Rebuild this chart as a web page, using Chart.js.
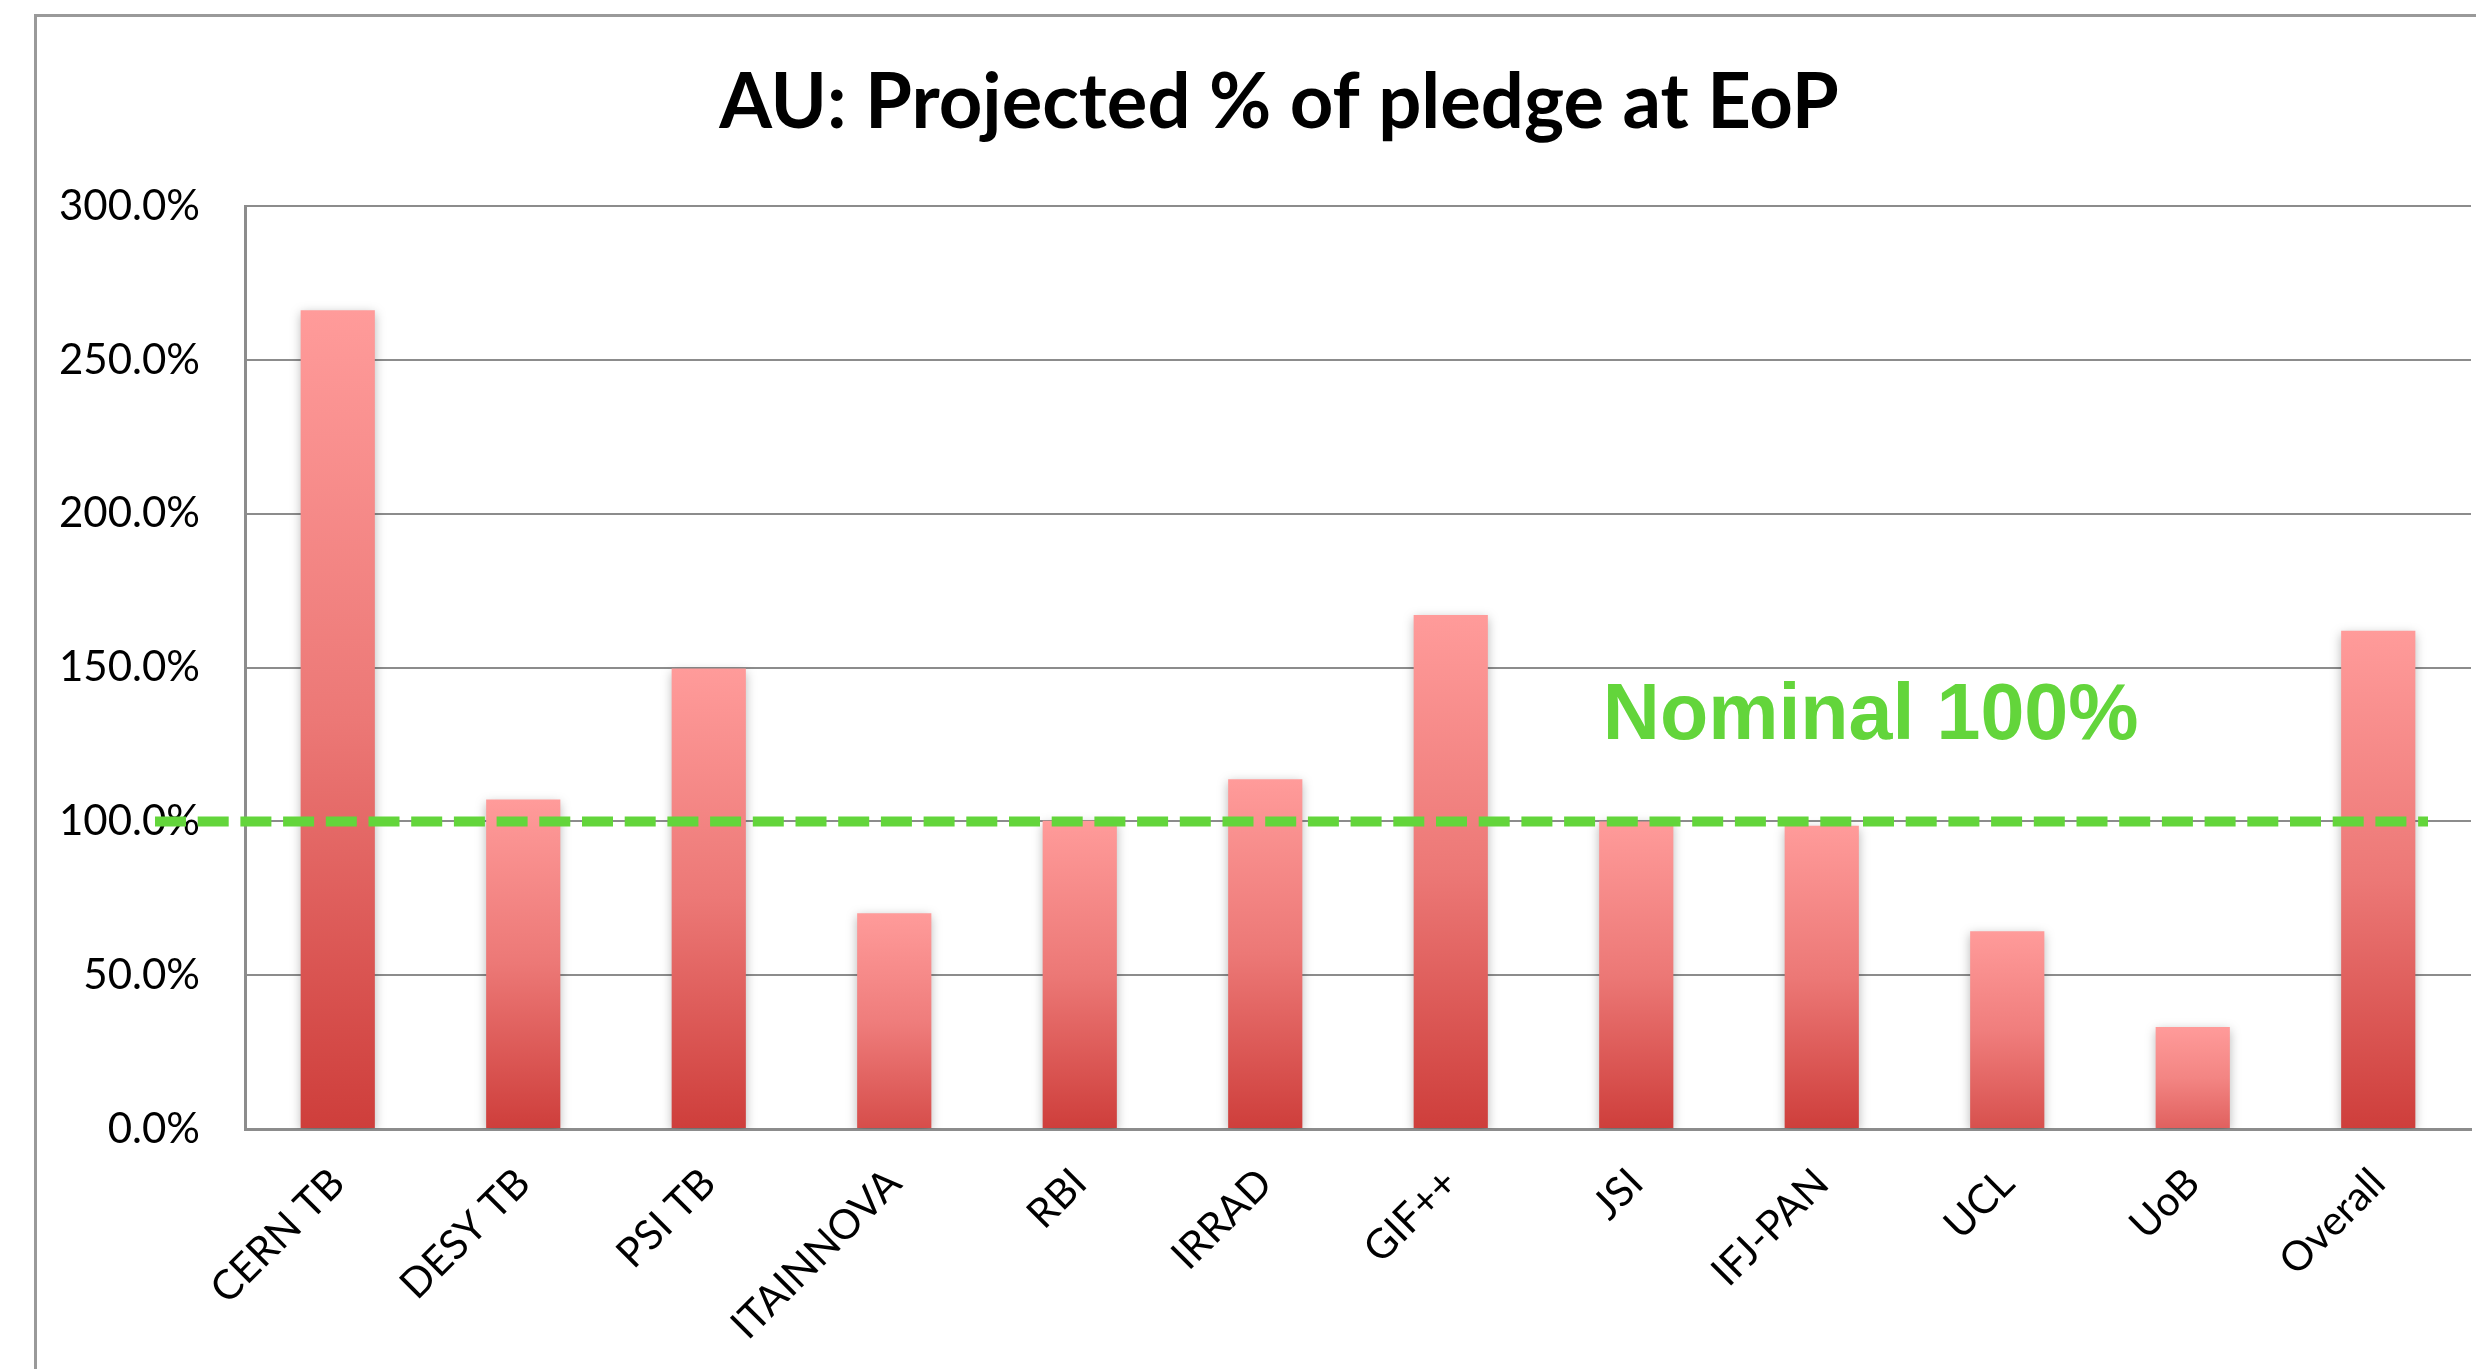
<!DOCTYPE html>
<html>
<head>
<meta charset="utf-8">
<title>AU: Projected % of pledge at EoP</title>
<script src="https://cdn.jsdelivr.net/npm/chart.js@4.4.1/dist/chart.umd.min.js"></script>
<style>
    html, body {
        margin: 0;
        padding: 0;
        background: #ffffff;
        overflow: hidden;
    }
    .frame {
        position: absolute;
        left: 34px;
        top: 14px;
        border-left: 3px solid #9a9a9a;
        border-top: 3px solid #9a9a9a;
    }
    .chart-box {
        position: relative;
        width: 2508px;
        height: 1352px;
    }
</style>
</head>
<body>
<div class="frame">
    <div class="chart-box">
        <canvas id="pledgeChart"></canvas>
    </div>
</div>
<script>
// Chart data
const categories = ['CERN TB', 'DESY TB', 'PSI TB', 'ITAINNOVA', 'RBI', 'IRRAD', 'GIF++', 'JSI', 'IFJ-PAN', 'UCL', 'UoB', 'Overall'];
const pledgePercent = [266.2, 107.1, 149.7, 70.1, 100.2, 113.7, 167.1, 100.0, 98.6, 64.3, 33.2, 162.0];
const yMin = 0;
const yMax = 300;
const yStep = 50;
const nominalLevel = 100;
const nominalLabel = 'Nominal 100%';
const nominalLabelLevel = 126.7;

const GREEN = '#63d53b';
const GRID = '#8c8c8c';

// Mix two rgb colours
function mix(a, b, t) {
    return 'rgb(' + a.map((c, i) => Math.round(c + (b[i] - c) * t)).join(',') + ')';
}

// Per-bar vertical gradient, light pink at top to red at the base
function barGradient(context) {
    const chart = context.chart;
    const { chartArea, scales } = chart;
    if (!chartArea || !scales.y) return '#f08a88';
    const value = context.raw;
    const top = scales.y.getPixelForValue(value);
    const base = scales.y.getPixelForValue(0);
    if (!isFinite(top) || base - top < 1) return '#f08a88';
    const light = [255, 155, 154];
    const dark = [206, 62, 59];
    // shorter bars never reach the darkest red
    const depth = Math.min(1, 0.45 + value / 180);
    const g = chart.ctx.createLinearGradient(0, top, 0, base);
    g.addColorStop(0, mix(light, dark, 0));
    g.addColorStop(0.5, mix(light, dark, depth * 0.38));
    g.addColorStop(1, mix(light, dark, depth));
    return g;
}

// Soft shadow behind the bars
const barShadow = {
    id: 'barShadow',
    beforeDatasetsDraw(chart) {
        const ctx = chart.ctx;
        ctx.save();
        ctx.shadowColor = 'rgba(0, 0, 0, 0.28)';
        ctx.shadowBlur = 10;
        ctx.shadowOffsetX = 0;
        ctx.shadowOffsetY = 3;
    },
    afterDatasetsDraw(chart) {
        chart.ctx.restore();
    }
};

// Dashed nominal line plus its label
const nominalLine = {
    id: 'nominalLine',
    afterDraw(chart) {
        const { ctx, chartArea, scales } = chart;
        const y = scales.y.getPixelForValue(nominalLevel);
        ctx.save();
        ctx.strokeStyle = GREEN;
        ctx.lineWidth = 10;
        ctx.setLineDash([31, 11.7]);
        ctx.beginPath();
        ctx.moveTo(chartArea.left - 90, y);
        ctx.lineTo(chartArea.right - 43, y);
        ctx.stroke();

        ctx.setLineDash([]);
        ctx.fillStyle = GREEN;
        ctx.font = 'bold 79px "Liberation Sans", Arial, sans-serif';
        ctx.textAlign = 'left';
        ctx.textBaseline = 'alphabetic';
        ctx.fillText(nominalLabel, chartArea.left + chartArea.width * 0.61, scales.y.getPixelForValue(nominalLabelLevel));
        ctx.restore();
    }
};

const ctx = document.getElementById('pledgeChart').getContext('2d');

new Chart(ctx, {
    type: 'bar',
    data: {
        labels: categories,
        datasets: [{
            label: 'Projected % of pledge',
            data: pledgePercent,
            backgroundColor: barGradient,
            borderWidth: 0,
            categoryPercentage: 1.0,
            barPercentage: 0.4
        }]
    },
    options: {
        responsive: true,
        maintainAspectRatio: false,
        animation: false,
        layout: {
            padding: { left: 0, right: 24, top: 0, bottom: 0 }
        },
        plugins: {
            legend: { display: false },
            tooltip: { enabled: false },
            title: {
                display: true,
                text: 'AU: Projected % of pledge at EoP',
                color: '#000000',
                font: { family: 'Lato', size: 76, weight: 'bold', lineHeight: 1.2 },
                padding: { top: 41, bottom: 57 }
            }
        },
        scales: {
            x: {
                grid: { display: false, drawTicks: false },
                border: { display: true, color: GRID, width: 3 },
                ticks: {
                    color: '#000000',
                    font: { family: 'Lato', size: 41 },
                    minRotation: 45,
                    maxRotation: 45,
                    padding: 30,
                    autoSkip: false
                },
                afterFit(scale) {
                    scale.height = 240;
                }
            },
            y: {
                min: yMin,
                max: yMax,
                grid: { color: GRID, lineWidth: 2, drawTicks: false },
                border: { display: true, color: GRID, width: 3 },
                ticks: {
                    stepSize: yStep,
                    color: '#000000',
                    font: { family: 'Lato', size: 42 },
                    padding: 45,
                    callback: value => value.toFixed(1) + '%'
                },
                afterFit(scale) {
                    scale.width = 208;
                }
            },
            // empty right-hand axis, only reserves room past the plot edge
            yRight: {
                position: 'right',
                min: yMin,
                max: yMax,
                grid: { display: false, drawTicks: false },
                border: { display: false },
                ticks: { display: false },
                afterFit(scale) {
                    scale.width = 50;
                }
            }
        }
    },
    plugins: [barShadow, nominalLine]
});
</script>
</body>
</html>
